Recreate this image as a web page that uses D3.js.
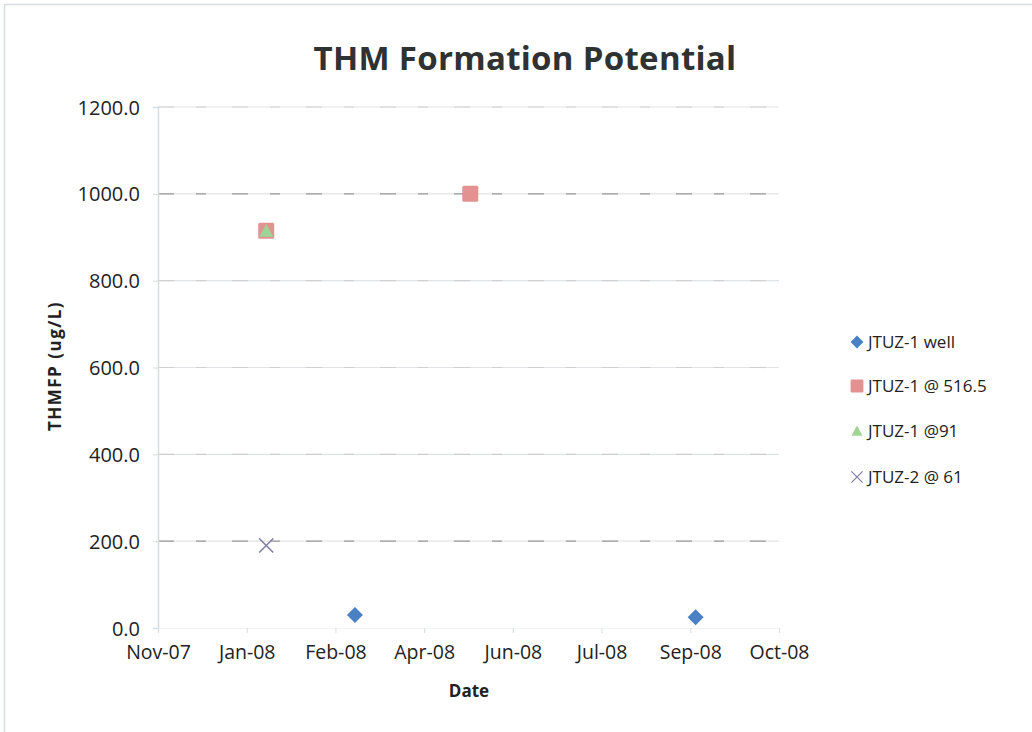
<!DOCTYPE html>
<html>
<head>
<meta charset="utf-8">
<script src="https://cdn.jsdelivr.net/npm/d3@7/dist/d3.min.js"></script>
<style>
  html, body { margin: 0; padding: 0; background: #fff; }
  svg { display: block; }
  text { font-family: "Open Sans", "Noto Sans", sans-serif; fill: #222; }
</style>
</head>
<body>
<svg id="chart" width="1032" height="732"></svg>
<script>
// Series and sampling dates (UTC)
const seriesNames = ["JTUZ-1 well", "JTUZ-1 @ 516.5", "JTUZ-1 @91", "JTUZ-2 @ 61"];
const wellDates   = ["2008-03-04", "2008-09-12"];
const wellValues  = [30, 25];
const deep516Dates  = ["2008-01-14", "2008-05-08"];
const deep516Values = [915, 1000];
const mid91Dates  = ["2008-01-14"];
const mid91Values = [915];
const jtuz2Dates  = ["2008-01-14"];
const jtuz2Values = [190];

// Axis ticks
const xTickDates = ["2007-11-14", "2008-01-03", "2008-02-22", "2008-04-12",
                    "2008-06-01", "2008-07-21", "2008-09-09", "2008-10-29"];
const yTicks = [0, 200, 400, 600, 800, 1000, 1200];

const parse = d3.utcParse("%Y-%m-%d");
const fmt = d3.utcFormat("%b-%y");

const svg = d3.select("#chart");
const margin = { left: 158, right: 253, top: 107, bottom: 104 };
const W = 1032, H = 732;

const x = d3.scaleUtc()
  .domain([parse(xTickDates[0]), parse(xTickDates[xTickDates.length - 1])])
  .range([margin.left, W - margin.right]);
const y = d3.scaleLinear().domain([0, 1200]).range([H - margin.bottom, margin.top]);

// faint page frame
svg.append("line").attr("x1", 4).attr("x2", 1032).attr("y1", 4.5).attr("y2", 4.5)
  .attr("stroke", "#d6dcdf").attr("stroke-width", 1.5);
svg.append("line").attr("x1", 4.5).attr("x2", 4.5).attr("y1", 4).attr("y2", 732)
  .attr("stroke", "#d6dcdf").attr("stroke-width", 1.5);

// Title
svg.append("text").attr("x", 525).attr("y", 70).attr("text-anchor", "middle")
  .style("font-size", "33px").style("font-weight", "bold").style("fill", "#2e3233")
  .style("letter-spacing", "0.3px")
  .text("THM Formation Potential");

// Gridlines
const grid = svg.append("g");
grid.selectAll("line.g").data(yTicks.filter(d => d > 0)).enter().append("line")
  .attr("x1", x.range()[0]).attr("x2", x.range()[1])
  .attr("y1", d => y(d)).attr("y2", d => y(d))
  .attr("stroke", "#e0e3e5").attr("stroke-width", 1.2);
grid.selectAll("line.d").data(yTicks.filter(d => d > 0)).enter().append("line")
  .attr("x1", x.range()[0]).attr("x2", x.range()[1])
  .attr("y1", d => y(d)).attr("y2", d => y(d))
  .attr("stroke", d => (d === 1000 || d === 200) ? "#9a9a9a" : "#d0d0d0")
  .attr("stroke-width", 1.2)
  .attr("stroke-dasharray", "16,22,10,26");

// Y axis
const yAxis = d3.axisLeft(y).tickValues(yTicks).tickFormat(d3.format(".1f")).tickSize(5).tickPadding(13);
const gy = svg.append("g").attr("transform", `translate(${margin.left},0)`).call(yAxis);
gy.select(".domain").attr("stroke", "#d6dcdf").attr("stroke-width", 1.5);
gy.selectAll(".tick line").attr("stroke", "#d6dcdf");
gy.selectAll(".tick text").style("font-size", "20px").style("fill", "#222").attr("dy", "0.35em");

// X axis
const xAxis = d3.axisBottom(x).tickValues(xTickDates.map(parse)).tickFormat(fmt).tickSize(5).tickPadding(12);
const gx = svg.append("g").attr("transform", `translate(0,${y(0)})`).call(xAxis);
gx.select(".domain").attr("stroke", "#f0f2f3");
gx.selectAll(".tick line").attr("stroke", "#d6dcdf");
gx.selectAll(".tick text").style("font-size", "19.5px").style("fill", "#222");

// Axis titles
svg.append("text").attr("x", 469).attr("y", 697).attr("text-anchor", "middle")
  .style("font-size", "17px").style("font-weight", "bold").text("Date");
svg.append("text").attr("transform", "translate(61,366) rotate(-90)").attr("text-anchor", "middle")
  .style("font-size", "17px").style("font-weight", "bold").style("letter-spacing", "1.5px")
  .text("THMFP (ug/L)");

// Marker shapes
const colors = ["#4a80c4", "#e29391", "#9fd494", "#7f7fa6"];
function marker(g, i) {
  if (i === 0) {
    g.append("path").attr("d", "M0,-8L8,0L0,8L-8,0Z").attr("fill", colors[0]);
  } else if (i === 1) {
    g.append("rect").attr("x", -8).attr("y", -8).attr("width", 16).attr("height", 16)
      .attr("rx", 1.5).attr("fill", colors[1]);
  } else if (i === 2) {
    g.append("path").attr("d", "M0,-7L7,6L-7,6Z").attr("fill", colors[2]);
  } else {
    g.append("path").attr("d", "M-7,-7L7,7M7,-7L-7,7").attr("stroke", colors[3])
      .attr("stroke-width", 1.6).attr("fill", "none");
  }
}

const series = [
  { dates: wellDates, values: wellValues },
  { dates: deep516Dates, values: deep516Values },
  { dates: mid91Dates, values: mid91Values },
  { dates: jtuz2Dates, values: jtuz2Values }
];

series.forEach((s, i) => {
  s.dates.forEach((d, j) => {
    const g = svg.append("g").attr("transform", `translate(${x(parse(d))},${y(s.values[j])})`);
    marker(g, i);
  });
});

// Legend
const legendY = [342, 386, 431, 477];
seriesNames.forEach((name, i) => {
  const g = svg.append("g").attr("transform", `translate(857,${legendY[i]})`);
  const m = g.append("g").attr("transform", "scale(0.8)");
  marker(m, i);
  g.append("text").attr("x", 11).attr("y", 0).attr("dy", "0.36em")
    .style("font-size", "17px").text(name);
});
</script>
</body>
</html>
